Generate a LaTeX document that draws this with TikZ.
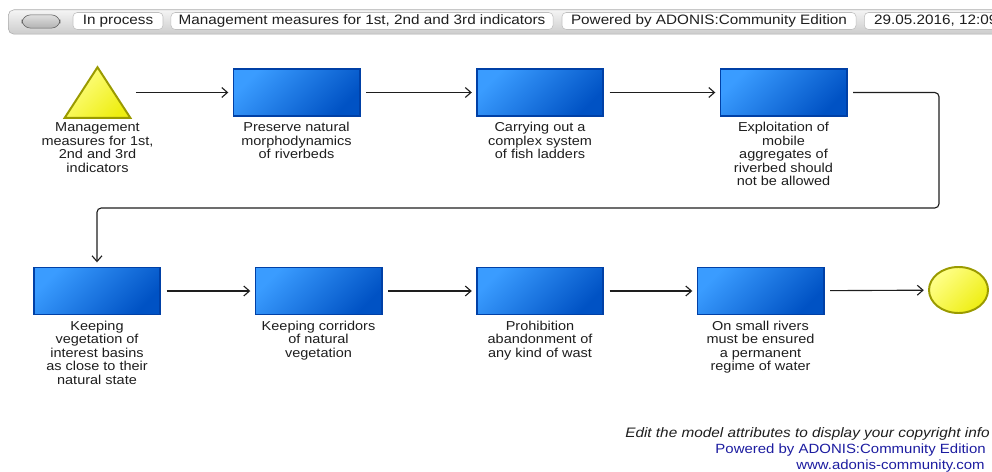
\documentclass[tikz,border=0pt]{standalone}
\usepackage{fontspec}
\setmainfont{Liberation Sans}[FakeStretch=1.12]
\usetikzlibrary{arrows.meta,positioning,shapes.geometric}

\definecolor{boxlight}{HTML}{3A9CFF}
\definecolor{boxdark}{HTML}{0052C4}
\definecolor{boxedge}{HTML}{0040A6}
\definecolor{yellowlight}{HTML}{FFFF8A}
\definecolor{yellowdark}{HTML}{EEEE12}
\definecolor{yellowedge}{HTML}{9A9A00}
\definecolor{linkblue}{HTML}{1C1CA0}
\definecolor{ink}{HTML}{1E1E1E}

\begin{document}
\begin{tikzpicture}[x=0.025cm, y=-0.025cm,
  task/.style={rectangle, draw=boxedge, line width=1.4pt,
               top color=boxlight, bottom color=boxdark, shading angle=45,
               minimum width=3.15cm, minimum height=1.175cm, inner sep=0pt},
  event/.style={draw=yellowedge, line width=1.4pt,
                top color=yellowlight, bottom color=yellowdark, shading angle=45},
  caption/.style={font=\fontsize{9.2}{9.6}\selectfont, text=ink,
                  align=center, inner sep=0pt},
  flow/.style={-{Straight Barb[length=4pt,width=7pt]}, draw=ink, line width=0.8pt,
               shorten <=4pt, shorten >=3pt},
  tab/.style={rectangle, rounded corners=3pt, draw=gray!50, fill=white,
              minimum height=0.425cm, inner sep=0pt,
              font=\fontsize{9.7}{11}\selectfont, text=ink},
  footer/.style={anchor=east, inner sep=0pt}
]
  \useasboundingbox (0,0) rectangle (992,472);
  \clip (0,0) rectangle (992,472);

  % Header bar
  \node[rectangle, rounded corners=4pt, draw=gray!65, top color=gray!8,
        bottom color=gray!40, minimum width=25.1cm, minimum height=0.61cm,
        anchor=north west] (toolbar) at (8,9.5) {};
  \node[rectangle, rounded corners=6pt, draw=gray!75!black, top color=gray!25,
        bottom color=gray!60, minimum width=0.95cm, minimum height=0.33cm]
        (pill) at (41,21.5) {};
  \node[tab, minimum width=2.25cm] (state) at (118,21) {In process};
  \node[tab, minimum width=9.55cm] (title) at (362,21)
        {Management measures for 1st, 2nd and 3rd indicators};
  \node[tab, minimum width=7.35cm] (brand) at (709,21)
        {Powered by ADONIS:Community Edition};
  \node[tab, anchor=west, inner xsep=7pt] (stamp) at (864,21)
        {29.05.2016, 12:09};

  % Nodes
  \node[rectangle, minimum width=1.625cm, minimum height=1.25cm, inner sep=0pt]
        (start) at (97.5,92.5) {};
  \draw[event] (start.south west) -- (start.south east) -- (start.north) -- cycle;
  \node[task] (b1) at (296.5,92.5) {};
  \node[task] (b2) at (540,92.5) {};
  \node[task] (b3) at (783.5,92.5) {};
  \node[task] (b4) at (97,291) {};
  \node[task] (b5) at (318.5,291) {};
  \node[task] (b6) at (540,291) {};
  \node[task] (b7) at (760.5,291) {};
  \node[event, ellipse, minimum width=1.475cm, minimum height=1.15cm, inner sep=0pt]
        (finish) at (958.5,290) {};

  % Captions
  \node[caption, below=3.5pt of start] (starttxt)
        {Management\\measures for 1st,\\2nd and 3rd\\indicators};
  \node[caption, below=3.5pt of b1] (b1txt)
        {Preserve natural\\morphodynamics\\of riverbeds};
  \node[caption, below=3.5pt of b2] (b2txt)
        {Carrying out a\\complex system\\of fish ladders};
  \node[caption, below=3.5pt of b3] (b3txt)
        {Exploitation of\\mobile\\aggregates of\\riverbed should\\not be allowed};
  \node[caption, below=3.5pt of b4] (b4txt)
        {Keeping\\vegetation of\\interest basins\\as close to their\\natural state};
  \node[caption, below=3.5pt of b5] (b5txt)
        {Keeping corridors\\of natural\\vegetation};
  \node[caption, below=3.5pt of b6] (b6txt)
        {Prohibition\\abandonment of\\any kind of wast};
  \node[caption, below=3.5pt of b7] (b7txt)
        {On small rivers\\must be ensured\\a permanent\\regime of water};

  % Arrows
  \coordinate (turn) at (939,208);
  \draw[flow] (start) -- (b1);
  \draw[flow] (b1) -- (b2);
  \draw[flow] (b2) -- (b3);
  \draw[flow, rounded corners=3pt] (b3) -| (turn) -| (b4);
  \draw[flow] (b4) -- (b5);
  \draw[flow] (b5) -- (b6);
  \draw[flow] (b6) -- (b7);
  \draw[flow] (b7) -- (finish);

  % Footer
  \node[footer, font=\fontsize{9.75}{12}\selectfont\itshape, text=ink] (copyinfo)
        at (990,434) {Edit the model attributes to display your copyright info};
  \node[footer, font=\fontsize{9.5}{12}\selectfont, text=linkblue] (powered)
        at (986,450) {Powered by ADONIS:Community Edition};
  \node[footer, font=\fontsize{9.5}{12}\selectfont, text=linkblue] (website)
        at (985,466.5) {www.adonis-community.com};
\end{tikzpicture}
\end{document}
